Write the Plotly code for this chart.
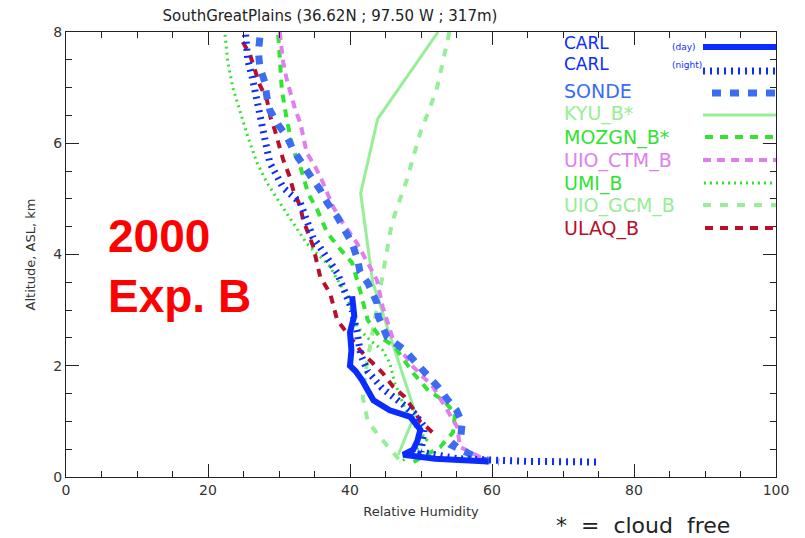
import plotly.graph_objects as go

# ---------------- data (RH %, altitude km) ----------------
carl_day_rh  = [40.3, 40.6, 40.0, 40.2, 40.0, 40.8, 41.7, 43.3, 45.6, 48.5, 49.9, 49.5, 48.9, 47.5, 52.0, 58.0, 59.5]
carl_day_alt = [3.25, 2.90, 2.60, 2.28, 2.00, 1.90, 1.74, 1.38, 1.20, 1.08, 0.85, 0.65, 0.49, 0.40, 0.33, 0.28, 0.28]

carl_night_rh  = [25.3, 25.6, 26.2, 26.9, 27.8, 28.7, 30.6, 33.0, 34.8, 35.4, 38.2, 39.6, 40.3, 41.0, 41.5, 42.5, 44.5, 46.5, 49.0, 50.5, 50.0, 50.0, 55.0, 65.0, 75.0]
carl_night_alt = [7.95, 7.50, 7.20, 6.80, 6.20, 5.65, 5.20, 4.93, 4.30, 4.20, 3.67, 3.24, 3.00, 2.60, 2.20, 1.90, 1.60, 1.40, 1.15, 0.90, 0.60, 0.45, 0.33, 0.28, 0.27]

sonde_rh  = [27.3, 27.1, 27.3, 28.0, 28.3, 28.7, 29.9, 31.1, 32.0, 33.4, 34.6, 35.8, 36.8, 38.2, 39.3, 40.3, 41.1, 41.4, 42.5, 43.8, 44.0, 45.2, 47.7, 49.4, 50.8, 52.4, 53.8, 55.0, 55.8, 55.6, 54.5, 58.7, 61.0]
sonde_alt = [7.90, 7.64, 7.37, 7.10, 6.83, 6.60, 6.33, 6.12, 5.88, 5.58, 5.38, 5.16, 4.93, 4.68, 4.44, 4.20, 3.90, 3.69, 3.49, 3.13, 2.88, 2.52, 2.28, 2.05, 1.83, 1.62, 1.38, 1.20, 0.97, 0.72, 0.56, 0.30, 0.27]

kyu_rh  = [52.4, 43.9, 41.5, 43.2, 46.0, 49.2, 46.8]
kyu_alt = [8.00, 6.44, 5.10, 3.50, 2.40, 1.15, 0.40]

mozgn_rh  = [29.9, 30.1, 30.4, 31.1, 32.0, 33.0, 34.1, 35.4, 36.8, 38.6, 40.3, 41.4, 42.5, 44.2, 46.3, 48.9, 51.0, 53.1, 54.8, 54.5, 52.7, 50.5, 48.7]
mozgn_alt = [7.95, 7.50, 6.96, 6.42, 5.88, 5.58, 5.10, 4.80, 4.39, 4.10, 3.85, 3.36, 2.82, 2.52, 2.34, 1.87, 1.56, 1.38, 1.15, 0.80, 0.54, 0.38, 0.25]

uio_ctm_rh  = [30.1, 30.6, 31.1, 32.3, 33.0, 33.9, 35.1, 36.2, 37.6, 39.0, 41.0, 43.8, 44.6, 46.1, 48.9, 51.7, 53.7, 55.1, 55.5, 58.3, 59.5]
uio_ctm_alt = [8.00, 7.45, 7.14, 6.60, 6.37, 5.83, 5.58, 5.29, 4.86, 4.57, 4.20, 3.54, 3.06, 2.46, 1.98, 1.62, 1.20, 0.90, 0.54, 0.36, 0.34]

umi_rh  = [22.4, 22.8, 23.5, 24.5, 25.6, 26.9, 28.3, 30.1, 32.0, 33.9, 37.2, 39.6, 41.0, 42.8, 44.6, 45.6, 46.3, 47.5, 48.4, 50.8, 49.0, 47.0]
umi_alt = [7.95, 7.45, 7.00, 6.60, 6.12, 5.65, 5.29, 4.93, 4.57, 4.20, 3.78, 3.24, 2.70, 2.46, 2.28, 2.05, 1.69, 1.30, 1.03, 0.67, 0.45, 0.25]

uio_gcm_rh  = [54.0, 52.2, 49.9, 48.0, 45.9, 44.6, 43.5, 42.2, 41.8, 42.5, 44.2, 45.6, 47.0]
uio_gcm_alt = [8.00, 6.96, 6.19, 5.34, 4.57, 3.60, 2.80, 1.90, 1.44, 1.00, 0.72, 0.52, 0.30]

ulaq_rh  = [24.9, 25.9, 26.6, 27.3, 28.3, 28.8, 29.4, 30.1, 30.6, 31.5, 32.0, 33.0, 33.4, 34.8, 35.8, 37.2, 38.2, 40.0, 41.4, 43.2, 44.6, 46.1, 47.7, 49.2, 49.9, 50.8, 52.3]
ulaq_alt = [7.82, 7.60, 7.32, 7.05, 6.78, 6.47, 6.24, 5.94, 5.70, 5.40, 5.16, 4.86, 4.62, 4.15, 3.60, 3.30, 2.82, 2.52, 2.28, 2.05, 1.87, 1.62, 1.44, 1.17, 0.99, 0.90, 0.72]

series_names = ["CARL", "CARL", "SONDE", "KYU_B*", "MOZGN_B*", "UIO_CTM_B", "UMI_B", "UIO_GCM_B", "ULAQ_B"]

x_tickvals = [0, 20, 40, 60, 80, 100]
y_tickvals = [0, 2, 4, 6, 8]

# ---------------- styles ----------------
BLUE = "#0a2cff"
SONDE_C = "#3a6cf4"
LGREEN = "#96ee96"
GREEN = "#30e430"
VIOLET = "#e07ef0"
DRED = "#b8102a"

styles = [
    dict(x=carl_day_rh, y=carl_day_alt, color=BLUE, width=6, dash="solid"),
    dict(x=carl_night_rh, y=carl_night_alt, color=BLUE, width=7, dash="2px,5px"),
    dict(x=sonde_rh, y=sonde_alt, color=SONDE_C, width=7, dash="9px,9px"),
    dict(x=kyu_rh, y=kyu_alt, color=LGREEN, width=3, dash="solid"),
    dict(x=mozgn_rh, y=mozgn_alt, color=GREEN, width=4, dash="8px,7px"),
    dict(x=uio_ctm_rh, y=uio_ctm_alt, color=VIOLET, width=4, dash="8px,6px"),
    dict(x=umi_rh, y=umi_alt, color=GREEN, width=3, dash="2px,4px"),
    dict(x=uio_gcm_rh, y=uio_gcm_alt, color=LGREEN, width=4, dash="8px,9px"),
    dict(x=ulaq_rh, y=ulaq_alt, color=DRED, width=4, dash="8px,7px"),
]

fig = go.Figure()
draw_order = [6, 7, 3, 8, 4, 5, 2, 1, 0]
for i in draw_order:
    s = styles[i]
    fig.add_trace(go.Scatter(x=s["x"], y=s["y"], mode="lines", name=series_names[i],
                             line=dict(color=s["color"], width=s["width"], dash=s["dash"]),
                             showlegend=False, hoverinfo="skip"))

# ---------------- custom legend (text left, sample right) ----------------
L, R, T, B = 66, 776, 32, 477
W, H = 805, 538
def px2x(px):
    return (px - L) / (R - L)
def py2y(py):
    return (B - py) / (B - T)

legend_text_colors = [BLUE, BLUE, SONDE_C, LGREEN, GREEN, VIOLET, GREEN, LGREEN, DRED]
legend_text_y = [43, 64, 91, 114, 137, 160, 183, 205, 228]
legend_text_size = [17, 17, 19, 19, 19, 19, 19, 19, 19]
legend_line_y = [47, 71, 93, 115, 137, 160, 183, 205, 228]
legend_line_x0 = [703, 703, 712, 703, 705, 703, 704, 703, 705]

annotations = []
shapes = []
for i, name in enumerate(series_names):
    annotations.append(dict(x=px2x(562), y=py2y(legend_text_y[i]), xref="paper", yref="paper",
                            text=name, showarrow=False, xanchor="left", yanchor="middle",
                            font=dict(family="DejaVu Sans", size=legend_text_size[i],
                                      color=legend_text_colors[i])))
    s = styles[i]
    shapes.append(dict(type="line", xref="paper", yref="paper",
                       x0=px2x(legend_line_x0[i]), x1=px2x(776),
                       y0=py2y(legend_line_y[i]), y1=py2y(legend_line_y[i]),
                       line=dict(color=s["color"], width=s["width"], dash=s["dash"])))

annotations.append(dict(x=px2x(670), y=py2y(47), xref="paper", yref="paper", text="(day)",
                        showarrow=False, xanchor="left", yanchor="middle",
                        font=dict(family="DejaVu Sans", size=9, color=BLUE)))
annotations.append(dict(x=px2x(670), y=py2y(65), xref="paper", yref="paper", text="(night)",
                        showarrow=False, xanchor="left", yanchor="middle",
                        font=dict(family="DejaVu Sans", size=9, color=BLUE)))

# big red label
annotations.append(dict(x=px2x(106), y=py2y(266), xref="paper", yref="paper",
                        text="<b>2000</b><br><b>Exp. B</b>", showarrow=False, align="left",
                        xanchor="left", yanchor="middle",
                        font=dict(family="Liberation Sans", size=46, color="#ff0000")))

# cloud free note
annotations.append(dict(x=px2x(554), y=py2y(525), xref="paper", yref="paper",
                        text="*  =  cloud  free", showarrow=False, xanchor="left", yanchor="middle",
                        font=dict(family="DejaVu Sans", size=22, color="#222222")))

fig.update_layout(
    width=W, height=H,
    margin=dict(l=L, r=W - R, t=T, b=H - B),
    paper_bgcolor="white", plot_bgcolor="white",
    title=dict(text="SouthGreatPlains (36.62N ; 97.50 W ; 317m)", x=(168 + 492) / 2 / W, xanchor="center",
               y=1 - 16 / H, yanchor="middle",
               font=dict(family="DejaVu Sans", size=15, color="#222222")),
    annotations=annotations,
    shapes=shapes,
    font=dict(family="DejaVu Sans", color="#333333"),
)
fig.update_xaxes(range=[0, 100], tickvals=x_tickvals, ticks="inside", ticklen=13, tickwidth=1,
                 tickcolor="#222", showline=True, linecolor="#222", linewidth=1, mirror="ticks",
                 showgrid=False, zeroline=False,
                 minor=dict(dtick=5, ticks="inside", ticklen=6, tickcolor="#222"),
                 tickfont=dict(size=14, color="#333333"),
                 title=dict(text="Relative Humidity", font=dict(size=13, color="#333333"), standoff=10))
fig.update_yaxes(range=[0, 8], tickvals=y_tickvals, ticks="inside", ticklen=13, tickwidth=1,
                 tickcolor="#222", showline=True, linecolor="#222", linewidth=1, mirror="ticks",
                 showgrid=False, zeroline=False,
                 minor=dict(dtick=0.5, ticks="inside", ticklen=6, tickcolor="#222"),
                 tickfont=dict(size=14, color="#333333"),
                 title=dict(text="Altitude, ASL, km", font=dict(size=13, color="#333333"), standoff=14))

fig.write_html("out.html")
